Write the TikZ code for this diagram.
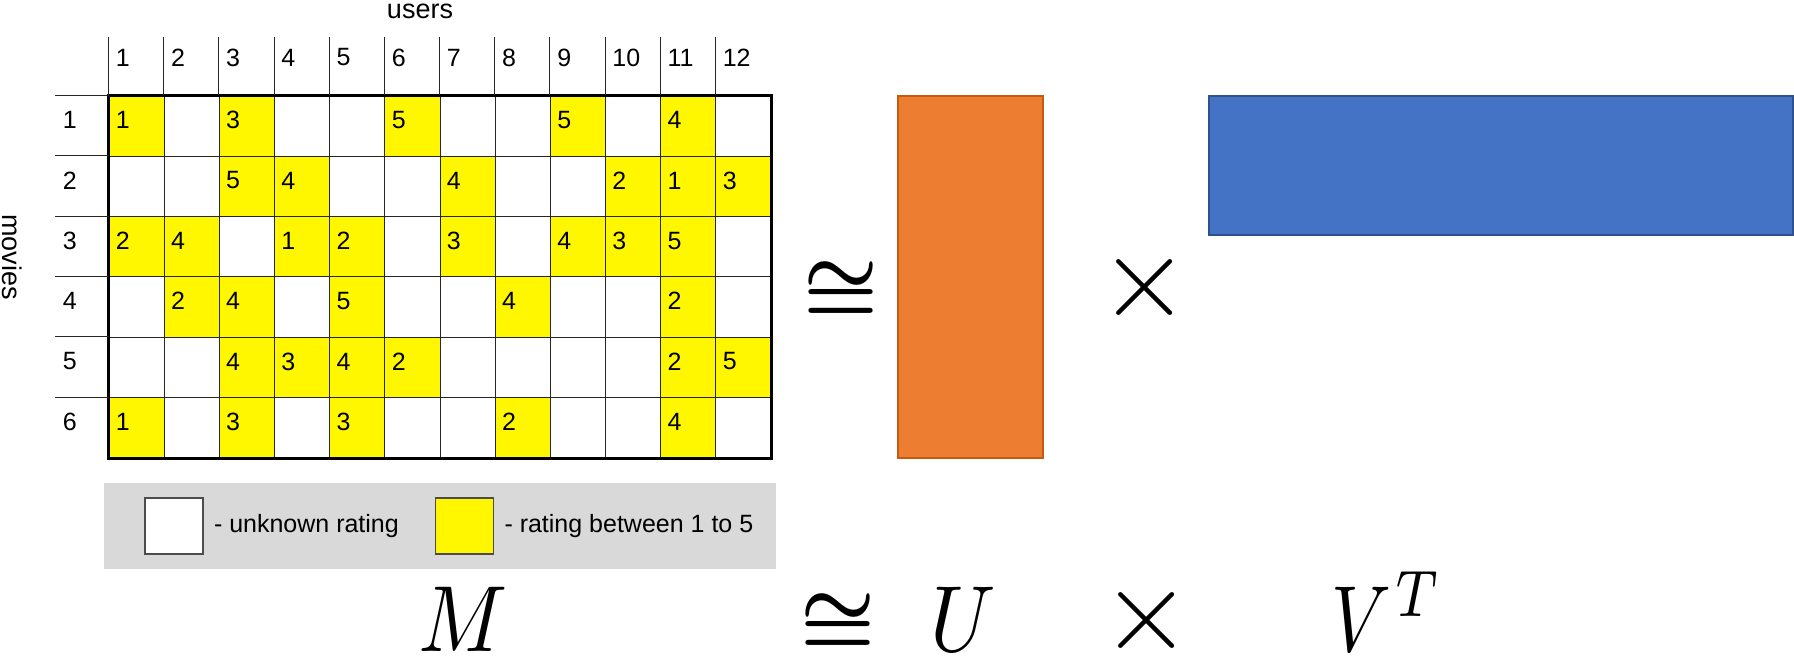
\documentclass[tikz,border=0pt]{standalone}
\usepackage{amsmath,amssymb}
\usepackage{fontspec}
\setmainfont{Liberation Sans}
\usepackage{xcolor}
\definecolor{rateyellow}{HTML}{FFF700}
\definecolor{legendgray}{HTML}{D9D9D9}
\definecolor{orange1}{HTML}{ED7D31}
\definecolor{orange2}{HTML}{C55A11}
\definecolor{blue1}{HTML}{4472C4}
\definecolor{blue2}{HTML}{2F528F}
\usetikzlibrary{positioning}

\begin{document}
\begin{tikzpicture}[
  x=0.5pt, y=0.5pt,
  cell/.style={rectangle,draw=black!85,line width=0.5pt,fill=white,
               minimum width=27.58pt,minimum height=30.17pt,inner sep=0pt},
  rated/.style={cell,fill=rateyellow},
  num/.style={font=\fontsize{12.5}{14}\selectfont,inner sep=0pt,anchor=west},
  gridline/.style={draw=black!85,line width=0.5pt},
  legbox/.style={rectangle,draw=black!70,line width=0.6pt,
                 minimum width=29pt,minimum height=28pt,inner sep=0pt},
  factor/.style={rectangle,line width=0.8pt,inner sep=0pt},
  bigmath/.style={inner sep=0pt,scale=4.7,xscale=0.88},
  approx/.style={inner sep=0pt,scale=4.2},
  prod/.style={inner sep=0pt,scale=5.8},
]
  \useasboundingbox (0,0) rectangle (1794,-663);

  % rating matrix
  \foreach \r in {1,...,6}
    \foreach \c in {1,...,12}
      \node[cell] (c-\r-\c) at ({109+55.17*(\c-0.5)},{-96-60.33*(\r-0.5)}) {};

  \foreach \r/\c/\v in {1/1/1,1/3/3,1/6/5,1/9/5,1/11/4,
                        2/3/5,2/4/4,2/7/4,2/10/2,2/11/1,2/12/3,
                        3/1/2,3/2/4,3/4/1,3/5/2,3/7/3,3/9/4,3/10/3,3/11/5,
                        4/2/2,4/3/4,4/5/5,4/8/4,4/11/2,
                        5/3/4,5/4/3,5/5/4,5/6/2,5/11/2,5/12/5,
                        6/1/1,6/3/3,6/5/3,6/8/2,6/11/4}{
    \node[rated] (y-\r-\c) at (c-\r-\c) {};
    \node[num] (v-\r-\c) at ([xshift=3.5pt,yshift=3pt]c-\r-\c.west) {\v};
  }
  \draw[line width=1.5pt] (c-1-1.north west) rectangle (c-6-12.south east);

  % user header
  \foreach \c in {1,...,12}{
    \draw[gridline] (c-1-\c.north west) -- ++(0,58);
    \node[num] (u-\c) at ([xshift=3.5pt,yshift=19pt]c-1-\c.west |- c-1-\c.north) {\c};
  }
  \node[num,anchor=base,font=\fontsize{13.5}{16}\selectfont] (users) at (420,-19) {users};

  % movie header
  \foreach \r in {1,...,6}{
    \draw[gridline] (c-\r-1.north west) -- ++(-54,0);
    \node[num] (m-\r) at ([xshift=-23pt,yshift=3pt]c-\r-1.west) {\r};
  }
  \node[num,anchor=base,rotate=-90,font=\fontsize{13.5}{16}\selectfont]
    (movies) at (3,-257) {movies};

  % legend
  \node[fill=legendgray,minimum width=336pt,minimum height=43pt,inner sep=0pt]
    (legend) at (439.5,-525.5) {};
  \node[legbox,fill=white] (unk) at (174,-526) {};
  \node[num,right=5pt of unk] (unk-txt) {- unknown rating};
  \node[legbox,fill=rateyellow] (known) at (464.5,-526) {};
  \node[num,right=5pt of known] (known-txt) {- rating between 1 to 5};

  % factor matrices
  \node[factor,fill=orange1,draw=orange2,minimum width=72.5pt,minimum height=181pt]
    (U) at (970.5,-277) {};
  \node[factor,fill=blue1,draw=blue2,minimum width=292pt,minimum height=69.5pt]
    (V) at (1501,-165.5) {};
  \node[approx] (cong-top) at (841,-292) {$\boldsymbol{\cong}$};
  \node[prod] (times-top) at (1145,-288) {$\times$};

  % formula
  \node[bigmath,anchor=base] (M-lbl) at (463,-651) {$M$};
  \node[approx] (cong-bot) at (838,-624) {$\boldsymbol{\cong}$};
  \node[bigmath,anchor=base] (U-lbl) at (963,-651) {$U$};
  \node[prod] (times-bot) at (1147,-620) {$\times$};
  \node[bigmath,xscale=0.9,anchor=base west] (V-lbl) at (1330,-651) {$V^{\hspace{0.6pt}T}$};
\end{tikzpicture}
\end{document}
